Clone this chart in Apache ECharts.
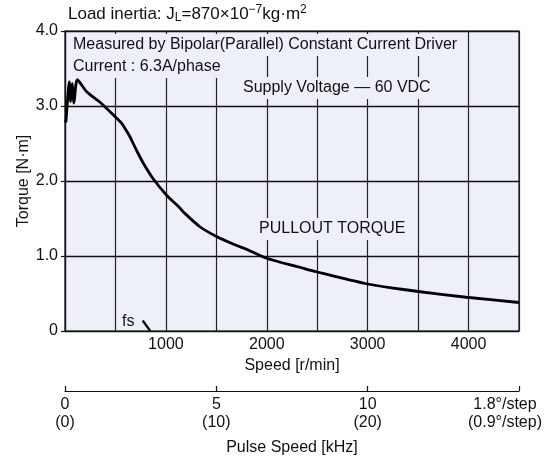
<!DOCTYPE html>
<html>
<head>
<meta charset="utf-8">
<script src="https://cdn.jsdelivr.net/npm/echarts@6/dist/echarts.min.js"></script>
<style>
html,body{margin:0;padding:0;background:#fff;}
#c{width:551px;height:461px;}
</style>
</head>
<body>
<div id="c"></div>
<script>
// Pullout torque curve: speed [r/min] vs torque [N·m]
var speed  = [6, 10, 43, 56, 72, 89, 122, 215, 347, 495, 561, 600, 644, 676, 743, 775, 874, 1007, 1139, 1171, 1337, 1502, 1666, 1799, 1997, 2327, 2492, 2987, 3317, 3482, 3977, 4500];
var torque = [2.78, 2.81, 3.32, 3.06, 3.30, 3.04, 3.35, 3.19, 3.05, 2.86, 2.77, 2.69, 2.59, 2.50, 2.32, 2.24, 2.03, 1.81, 1.64, 1.59, 1.39, 1.26, 1.16, 1.09, 0.97, 0.85, 0.79, 0.63, 0.56, 0.53, 0.45, 0.38];
// fs (self-start) marker segment
var fsSpeed  = [770, 845];
var fsTorque = [0.14, 0];
// axis tick values
var speedTicks  = [1000, 2000, 3000, 4000];
var torqueTicks = [0, 1, 2, 3, 4];
var pulseTicks  = [0, 5, 10, 15];
var pulseLabels1 = ['0', '5', '10', '1.8°/step'];
var pulseLabels2 = ['(0)', '(10)', '(20)', '(0.9°/step)'];

var FONT = 'Liberation Sans, Arial, sans-serif';
var chart = echarts.init(document.getElementById('c'), null, {renderer: 'canvas'});

function pairs(xs, ys){ return xs.map(function(x,i){ return [x, ys[i]]; }); }

var BG = '#edf0f8';
function txt(text, x, y, bg){
  var s = {text: text, font: '16px ' + FONT, fill: '#111', align: 'left', verticalAlign: 'middle'};
  if (bg) { s.backgroundColor = BG; s.padding = [3, 3, 3, 3]; }
  return {type: 'text', x: x, y: y, z: 50, style: s};
}

chart.setOption({
  animation: false,
  backgroundColor: '#fff',
  textStyle: {fontFamily: FONT},
  grid: {left: 65, right: 32, top: 31, bottom: 130, show: true, backgroundColor: BG, borderColor: '#111', borderWidth: 1.2,
         containLabel: false, outerBoundsMode: 'none'},
  xAxis: [{
    type: 'value', min: 0, max: 4500, interval: 500,
    name: 'Speed [r/min]', nameLocation: 'middle', nameGap: 27, nameMoveOverlap: false,
    nameTextStyle: {fontSize: 16, color: '#111', fontFamily: FONT},
    axisLine: {show: true, lineStyle: {color: '#111', width: 1.2}},
    axisTick: {show: false},
    axisLabel: {fontSize: 16, color: '#111', margin: 6, fontFamily: FONT,
      formatter: function(v){ return speedTicks.indexOf(v) >= 0 ? String(v) : ''; }},
    splitLine: {show: true, lineStyle: {color: '#222', width: 1.2}}
  }, {
    type: 'value', min: 0, max: 15, interval: 5, position: 'bottom', offset: 60,
    name: 'Pulse Speed [kHz]', nameLocation: 'middle', nameGap: 49, nameMoveOverlap: false,
    nameTextStyle: {fontSize: 16, color: '#111', fontFamily: FONT},
    axisLine: {show: true, onZero: false, lineStyle: {color: '#111', width: 1.2}},
    axisTick: {show: true, inside: true, length: 5, lineStyle: {color: '#111', width: 1.2}},
    axisLabel: {fontSize: 16, color: '#111', margin: 5, lineHeight: 18, fontFamily: FONT,
      formatter: function(v){
        var i = pulseTicks.indexOf(v);
        if (i < 0) return '';
        if (i === pulseTicks.length - 1) return '{e|' + pulseLabels1[i] + '}\n{e|' + pulseLabels2[i] + '}';
        return pulseLabels1[i] + '\n' + pulseLabels2[i];
      },
      rich: {e: {fontSize: 16, color: '#111', lineHeight: 18, padding: [0, 28, 0, 0], fontFamily: FONT}}
    },
    splitLine: {show: false}
  }],
  yAxis: {
    type: 'value', min: 0, max: 4, interval: 1,
    name: 'Torque [N·m]', nameLocation: 'middle', nameGap: 33, nameMoveOverlap: false,
    nameTextStyle: {fontSize: 16, color: '#111', fontFamily: FONT},
    axisLine: {show: true, lineStyle: {color: '#111', width: 1.2}},
    axisTick: {show: true, length: 4, lineStyle: {color: '#111', width: 1.2}},
    axisLabel: {fontSize: 16, color: '#111', margin: 7, fontFamily: FONT,
      formatter: function(v){ return torqueTicks.indexOf(v) < 0 ? '' : (v === 0 ? '0' : v.toFixed(1)); }},
    splitLine: {show: true, lineStyle: {color: '#111', width: 1.4}}
  },
  series: [{
    type: 'line', xAxisIndex: 0, data: pairs(speed, torque), showSymbol: false, symbol: 'none',
    smooth: 0.25, lineStyle: {color: '#000', width: 2.8}, z: 3
  }, {
    type: 'line', xAxisIndex: 0, data: pairs(fsSpeed, fsTorque), showSymbol: false, symbol: 'none',
    lineStyle: {color: '#000', width: 2.2}, z: 3
  }],
  graphic: [
    {type: 'text', x: 68, y: 14, z: 50, style: {
      text: 'Load inertia: J{s|L}=870×10{p|−7}kg·m{p|2}', font: '17px ' + FONT, fill: '#111', verticalAlign: 'middle',
      rich: {s: {fontSize: 12, verticalAlign: 'bottom', padding: [6, 0, 0, 0], fill: '#111'}, p: {fontSize: 12, padding: [0, 0, 8, 0], fill: '#111'}}
    }},
    txt('Measured by Bipolar(Parallel) Constant Current Driver', 70, 45, true),
    txt('Current : 6.3A/phase', 70, 67, true),
    txt('Supply Voltage — 60 VDC', 240, 88, true),
    txt('PULLOUT TORQUE', 256, 229, true),
    txt('fs', 122, 322, false)
  ]
});
</script>
</body>
</html>
